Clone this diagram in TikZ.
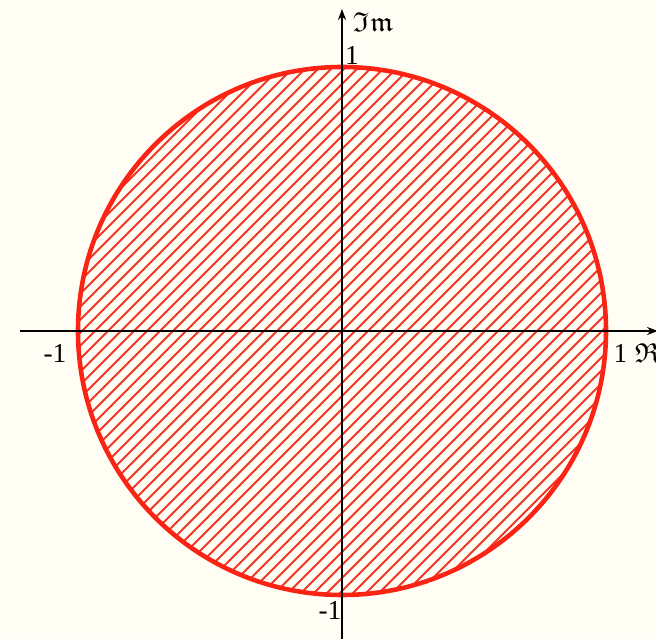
\documentclass[tikz,border=0pt]{standalone}
\usepackage{amssymb}
\usepackage{fontspec}
\setmainfont{Liberation Serif}
\usetikzlibrary{arrows.meta}
\definecolor{paper}{RGB}{255,253,244}
\definecolor{rim}{RGB}{250,35,20}
\definecolor{hatch}{RGB}{240,55,40}

\begin{document}
\begin{tikzpicture}[
    axis/.style={-{Stealth[length=1.1mm,width=0.8mm]}, line width=0.6pt},
    lbl/.style={font=\fontsize{7.8}{8}\selectfont, inner sep=0pt},
    disc/.style={circle, draw=rim, line width=1.3pt, minimum size=5.28cm, inner sep=0pt,
      path picture={
        \foreach \c in {-3.9,-3.77,...,3.9}
          \draw[hatch, line width=0.55pt] (-2.7,-2.7+\c) -- (2.7,2.7+\c);
      }}
]
\fill[paper] (-3.42,-3.08) rectangle (3.14,3.31);
\useasboundingbox (-3.42,-3.08) rectangle (3.14,3.31);
% unit disc
\node[disc] (unit) at (0,0) {};
% axes
\coordinate (xl) at (-3.22,0);
\coordinate (xr) at (3.16,0);
\coordinate (yb) at (0,-3.1);
\coordinate (yt) at (0,3.22);
\draw[axis] (xl) -- (xr);
\draw[axis] (yb) -- (yt);
% labels
\node[lbl] (im) at (0.31,3.09) {$\mathfrak{Im}$};
\node[lbl] (one) at (0.10,2.76) {1};
\node[lbl] (mone) at (-2.87,-0.22) {-1};
\node[lbl, anchor=west] (re) at (2.71,-0.22) {1 $\mathfrak{R}$};
\node[lbl] (monei) at (-0.12,-2.79) {-1};
\end{tikzpicture}
\end{document}
